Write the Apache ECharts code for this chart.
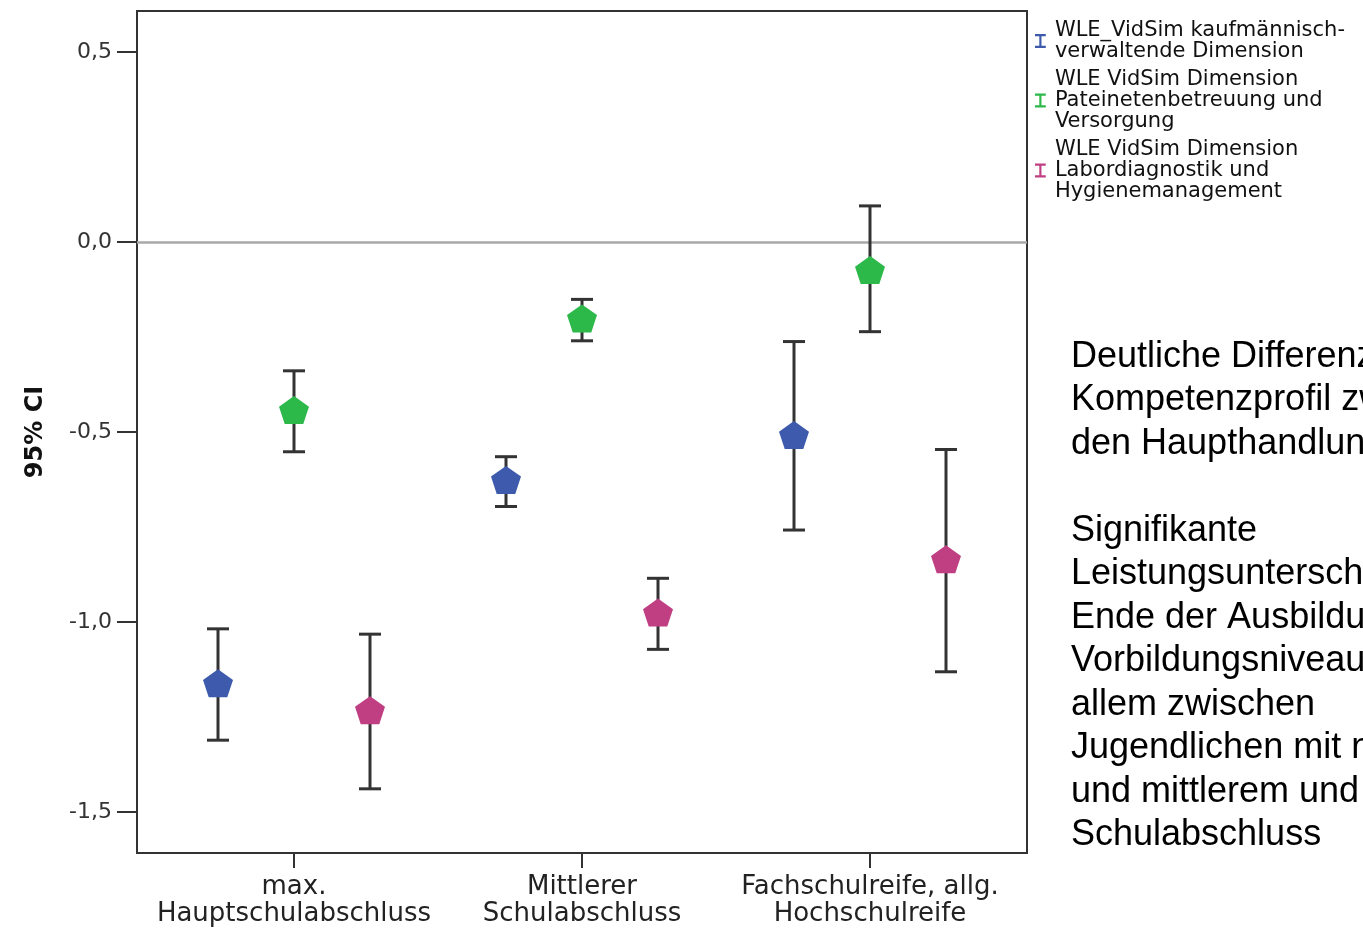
<!DOCTYPE html>
<html><head><meta charset="utf-8">
<script src="https://cdn.jsdelivr.net/npm/echarts@6/dist/echarts.min.js"></script>
<style>html,body{margin:0;padding:0;background:#fff;overflow:hidden}#c{width:1363px;height:930px}</style>
</head><body><div id="c"></div>
<script>
const categories = ['max.\nHauptschulabschluss', 'Mittlerer\nSchulabschluss', 'Fachschulreife, allg.\nHochschulreife'];
const seriesNames = [
  'WLE_VidSim kaufmännisch-\nverwaltende Dimension',
  'WLE VidSim Dimension\nPateinetenbetreuung und\nVersorgung',
  'WLE VidSim Dimension\nLabordiagnostik und\nHygienemanagement'
];
const yTicks = [-1.5, -1.0, -0.5, 0.0, 0.5];
const xTicks = [1, 2, 3];

const meanKauf = [-1.161, -0.626, -0.508];
const lowKauf  = [-1.311, -0.696, -0.758];
const highKauf = [-1.018, -0.565, -0.262];

const meanPat = [-0.442, -0.201, -0.074];
const lowPat  = [-0.552, -0.260, -0.236];
const highPat = [-0.339, -0.151, 0.095];

const meanLab = [-1.232, -0.975, -0.835];
const lowLab  = [-1.439, -1.072, -1.131];
const highLab = [-1.032, -0.885, -0.546];

const noteLines = [
  'Deutliche Differenzen im',
  'Kompetenzprofil zwischen',
  'den Haupthandlungsfeldern',
  '',
  'Signifikante',
  'Leistungsunterschiede am',
  'Ende der Ausbildung nach',
  'Vorbildungsniveau, vor',
  'allem zwischen',
  'Jugendlichen mit niedrigem',
  'und mittlerem und höherem',
  'Schulabschluss'
];

const colors = ['#3d5aac', '#2db84a', '#bf3f82'];
const OFF = 76 / 288;
const offsets = [-OFF, 0, OFF];
const means = [meanKauf, meanPat, meanLab];
const lows = [lowKauf, lowPat, lowLab];
const highs = [highKauf, highPat, highLab];
const pentagon = 'path://M0,-1L0.951,-0.309L0.588,0.809L-0.588,0.809L-0.951,-0.309Z';

const series = [];
for (let s = 0; s < 3; s++) {
  const ser = {
    type: 'custom', name: 'ci' + s, silent: true, z: 2,
    data: lows[s].map((l, i) => [xTicks[i] + offsets[s], l, highs[s][i]]),
    encode: { x: 0, y: [1, 2] },
    renderItem: (params, api) => {
      const lo = api.coord([api.value(0), api.value(1)]);
      const hi = api.coord([api.value(0), api.value(2)]);
      const w = 11;
      const style = { stroke: '#333', lineWidth: 3 };
      return { type: 'group', children: [
        { type: 'line', shape: { x1: hi[0], y1: hi[1], x2: lo[0], y2: lo[1] }, style },
        { type: 'line', shape: { x1: hi[0] - w, y1: hi[1], x2: hi[0] + w, y2: hi[1] }, style },
        { type: 'line', shape: { x1: lo[0] - w, y1: lo[1], x2: lo[0] + w, y2: lo[1] }, style }
      ]};
    }
  };
  if (s === 0) {
    ser.markLine = { silent: true, symbol: 'none', label: { show: false }, z: 1,
      lineStyle: { color: '#a8a8a8', width: 2.5, type: 'solid' }, data: [{ yAxis: 0 }] };
  }
  series.push(ser);
}
for (let s = 0; s < 3; s++) {
  series.push({
    type: 'scatter', name: seriesNames[s], z: 3,
    symbol: pentagon, symbolSize: [30, 28],
    itemStyle: { color: colors[s], opacity: 1 },
    data: means[s].map((m, i) => [xTicks[i] + offsets[s], m])
  });
}

const chart = echarts.init(document.getElementById('c'), null, { renderer: 'canvas' });
chart.setOption({
  animation: false,
  backgroundColor: '#fff',
  grid: { left: 137, top: 11, width: 890, height: 842, show: true, borderColor: '#333', borderWidth: 2, backgroundColor: 'transparent' },
  legend: {
    orient: 'vertical', left: 1030, top: 15, itemGap: 7,
    itemWidth: 19, itemHeight: 14,
    icon: 'path://M0,0H10V2H6V11H10V13H0V11H4V2H0Z',
    selectedMode: false,
    data: seriesNames,
    textStyle: { fontFamily: 'DejaVu Sans', fontSize: 21, lineHeight: 21, color: '#111' }
  },
  xAxis: {
    type: 'value', min: 1 - 157 / 288, max: 3 + 157 / 288,
    splitLine: { show: false },
    axisLine: { show: true, onZero: false, lineStyle: { color: '#333', width: 2 } },
    axisTick: { show: true, customValues: xTicks, length: 15, lineStyle: { color: '#333', width: 2 } },
    axisLabel: { customValues: xTicks, margin: 21, fontFamily: 'DejaVu Sans', fontSize: 26, lineHeight: 27, color: '#222',
      formatter: v => categories[Math.round(v) - 1] }
  },
  yAxis: {
    type: 'value', min: -(853 - 242) / 380, max: (242 - 11) / 380,
    name: '95% CI', nameLocation: 'middle', nameGap: 89, nameRotate: 90,
    nameTextStyle: { fontFamily: 'DejaVu Sans', fontWeight: 'bold', fontSize: 24, color: '#111' },
    splitLine: { show: false },
    axisLine: { show: true, onZero: false, lineStyle: { color: '#333', width: 2 } },
    axisTick: { show: true, customValues: yTicks, length: 20, lineStyle: { color: '#333', width: 2 } },
    axisLabel: { customValues: yTicks, margin: 25, fontFamily: 'DejaVu Sans', fontSize: 22, color: '#333',
      formatter: v => v.toFixed(1).replace('.', ',') }
  },
  graphic: [{
    type: 'text', x: 1071, y: 335, silent: true,
    style: { text: noteLines.join('\n'), font: '36px "Liberation Sans"', lineHeight: 43.5, fill: '#000', verticalAlign: 'top' }
  }],
  series
});
</script></body></html>
